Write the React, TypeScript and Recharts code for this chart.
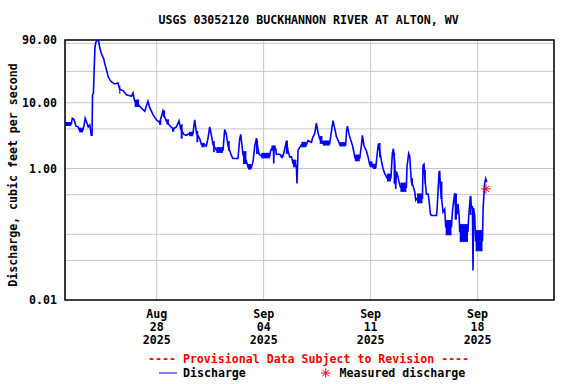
import { ComposedChart, Line, Area, Scatter, XAxis, YAxis, CartesianGrid, Legend, ReferenceArea } from 'recharts';

const FONT = '"DejaVu Sans Mono", monospace';
const BLUE = '#0000FF';
const RED = '#FF0000';

// days since Aug 22 2025, discharge in cfs
const flow: [number, number][] = [
  [0, 4.7], [0.4, 4.7], [0.48, 5.8], [0.58, 5.6], [0.66, 4.9], [0.72, 4.4], [0.86, 4.3], [0.92, 3.9],
  [1.18, 3.9], [1.25, 4.6], [1.32, 5.8], [1.42, 5.0], [1.52, 4.3], [1.62, 4.6], [1.72, 3.2], [1.77, 3.2],
  [1.8, 13], [1.86, 14], [1.9, 28], [1.96, 69], [2.01, 82], [2.12, 90], [2.2, 87], [2.23, 80],
  [2.27, 69], [2.36, 58], [2.45, 51], [2.53, 47], [2.62, 38], [2.71, 32], [2.82, 25], [2.93, 22.5],
  [3.04, 20.7], [3.25, 19.3], [3.47, 20], [3.58, 16], [3.8, 15.3], [4.02, 13.2], [4.35, 12.5], [4.45, 14],
  [4.56, 10.5], [4.78, 9.5], [5.0, 8.3], [5.22, 7.4], [5.43, 10.5], [5.54, 8.5], [5.76, 6.6], [5.98, 5.5],
  [6.2, 5.0], [6.41, 7.5], [6.5, 6.2], [6.64, 5.2], [6.85, 4.5], [7.07, 4.0], [7.29, 4.3], [7.46, 5.3],
  [7.57, 4.0], [7.72, 3.5], [7.77, 3.3], [7.95, 3.2], [8.12, 3.4], [8.38, 3.4], [8.42, 4.2], [8.49, 5.5],
  [8.6, 3.5], [8.82, 2.8], [8.93, 2.3], [9.14, 2.3], [9.25, 2.2], [9.36, 2.9], [9.47, 4.3], [9.58, 3.2],
  [9.69, 2.3], [9.91, 1.9], [10.34, 1.9], [10.45, 3.9], [10.56, 3.3], [10.67, 2.2], [10.88, 1.6], [10.99, 1.42],
  [11.32, 1.42], [11.43, 2.8], [11.5, 3.3], [11.65, 1.6], [11.87, 1.3], [11.98, 1.05], [12.2, 1.05], [12.3, 1.25],
  [12.42, 2.2], [12.53, 2.9], [12.63, 2.0], [12.7, 1.65], [12.85, 1.55], [13.4, 1.55], [13.44, 1.8], [13.51, 2.0],
  [13.64, 2.0], [13.66, 1.19], [13.68, 2.0], [13.79, 2.0], [13.83, 1.65], [14.05, 1.65], [14.16, 1.5], [14.27, 1.55],
  [14.38, 2.0], [14.49, 2.6], [14.59, 1.9], [14.7, 1.5], [14.82, 1.5], [14.92, 1.2], [15.14, 1.1], [15.18, 0.59],
  [15.22, 1.1], [15.25, 1.9], [15.47, 2.3], [15.8, 2.3], [15.9, 2.65], [16.13, 2.5], [16.19, 2.88], [16.34, 3.4],
  [16.45, 4.9], [16.56, 3.5], [16.67, 2.8], [16.85, 2.5], [16.88, 2.4], [17.32, 2.4], [17.43, 3.6], [17.54, 5.35],
  [17.6, 4.6], [17.7, 3.6], [17.76, 3.05], [17.87, 2.7], [17.98, 2.3], [18.37, 2.3], [18.42, 3.6], [18.48, 4.4],
  [18.59, 3.3], [18.7, 2.7], [18.82, 2.2], [18.9, 1.8], [18.97, 1.45], [19.29, 1.45], [19.4, 2.27], [19.46, 3.2],
  [19.57, 2.2], [19.73, 1.85], [19.83, 1.5], [19.94, 1.15], [20.12, 1.15], [20.16, 1.05], [20.34, 1.05], [20.42, 1.6],
  [20.51, 2.4], [20.6, 1.8], [20.71, 1.3], [20.81, 1.0], [20.92, 0.84], [21.07, 0.72], [21.33, 0.72], [21.42, 1.7],
  [21.49, 2.0], [21.58, 1.2], [21.64, 0.49], [21.69, 0.9], [21.79, 0.75], [21.86, 0.62], [21.95, 0.52], [22.34, 0.52],
  [22.38, 1.06], [22.49, 1.7], [22.56, 1.55], [22.62, 0.9], [22.67, 0.62], [22.77, 0.55], [22.89, 0.44], [22.95, 0.33],
  [23.04, 0.35], [23.39, 0.35], [23.43, 1.12], [23.49, 1.16], [23.54, 0.75], [23.65, 0.41], [23.76, 0.41], [23.82, 0.33],
  [23.91, 0.205], [23.98, 0.193], [24.31, 0.193], [24.35, 0.24], [24.48, 0.89], [24.52, 0.9], [24.57, 0.5], [24.74, 0.217],
  [24.85, 0.24], [24.91, 0.13], [25.29, 0.13], [25.35, 0.217], [25.44, 0.33], [25.5, 0.42], [25.55, 0.28], [25.65, 0.2],
  [25.72, 0.29], [25.79, 0.193], [25.83, 0.11], [26.37, 0.11], [26.42, 0.193], [26.53, 0.376], [26.6, 0.25], [26.66, 0.27],
  [26.7, 0.028], [26.74, 0.25], [26.81, 0.193], [26.87, 0.08], [27.32, 0.08], [27.36, 0.244], [27.42, 0.41], [27.46, 0.59],
  [27.53, 0.7], [27.6, 0.62],
];

// stretches where the 15-min record flips between two readings: [start, end, low, high]
const bands: [number, number, number, number][] = [
  [0, 0.4, 4.5, 5.0], [0.92, 1.18, 3.6, 4.1], [3.55, 3.62, 14, 17.8], [4.56, 4.85, 8.8, 11],
  [6.15, 6.3, 4.7, 5.3], [6.41, 6.55, 6.2, 7.5], [6.64, 6.8, 4.75, 5.5], [7.0, 7.15, 3.7, 4.1],
  [7.57, 7.7, 2.9, 4.6], [8.12, 8.38, 3.15, 3.56], [8.6, 8.72, 2.56, 3.64], [8.93, 9.14, 2.14, 2.41],
  [9.69, 9.8, 1.8, 2.56], [9.91, 10.34, 1.76, 2.07], [10.67, 10.78, 1.9, 2.56], [11.65, 11.87, 1.19, 1.8],
  [11.98, 12.2, 0.98, 1.15], [12.5, 12.62, 1.7, 2.7], [12.85, 13.4, 1.45, 1.7], [13.51, 13.79, 1.9, 2.2],
  [14.16, 14.27, 1.45, 1.6], [14.45, 14.59, 1.7, 2.62], [14.92, 15.14, 1.06, 1.34], [15.47, 15.8, 2.14, 2.5],
  [16.67, 16.85, 2.41, 3.05], [16.88, 17.32, 2.27, 2.62], [17.98, 18.37, 2.2, 2.47], [18.97, 19.29, 1.31, 1.6],
  [19.94, 20.12, 1.06, 1.26], [20.16, 20.34, 1.0, 1.16], [20.55, 20.65, 1.5, 2.4], [21.07, 21.33, 0.646, 0.82],
  [21.5, 21.6, 0.6, 1.7], [21.95, 22.34, 0.45, 0.6], [22.67, 22.77, 0.555, 0.7], [23.04, 23.39, 0.3, 0.41],
  [23.54, 23.61, 0.59, 0.94], [24.57, 24.7, 0.35, 0.62], [24.91, 25.29, 0.098, 0.162], [25.5, 25.65, 0.17, 0.41],
  [25.83, 26.37, 0.078, 0.14], [26.49, 26.6, 0.2, 0.376], [26.87, 27.32, 0.056, 0.1135],
];

const measuredDays = [27.55];
const measuredCfs = [0.49];

const xDomain = [0, 32];
const tickDays = [6, 13, 20, 27];
const tickMonths = ['Aug', 'Sep', 'Sep', 'Sep'];
const tickDates = ['28', '04', '11', '18'];
const tickYears = ['2025', '2025', '2025', '2025'];

const yDomain = [0.01, 90];
const yTicks = [0.01, 1, 10, 90];
const gridValues = [
  0.02, 0.03, 0.04, 0.05, 0.06, 0.07, 0.08, 0.09,
  0.1, 0.2, 0.3, 0.4, 0.5, 0.6, 0.7, 0.8, 0.9,
  1, 2, 3, 4, 5, 6, 7, 8, 9,
  10, 20, 30, 40, 50, 60, 70, 80,
];

const flowData = flow.map(([d, q]) => ({ d, q }));
const measuredData = measuredDays.map((d, i) => ({ d, m: measuredCfs[i] }));

const textStyle = { fontFamily: FONT, fontWeight: 'bold' as const, fontSize: 11.6, fill: '#000' };

const DateTick = ({ x, y, payload }: any) => {
  const i = tickDays.indexOf(payload.value);
  return (
    <text x={x} y={y} textAnchor="middle" style={textStyle}>
      <tspan x={x} dy={18.3}>{tickMonths[i]}</tspan>
      <tspan x={x} dy={12.8}>{tickDates[i]}</tspan>
      <tspan x={x} dy={12.8}>{tickYears[i]}</tspan>
    </text>
  );
};

const Asterisk = ({ cx, cy }: any) => {
  const r = 4.7;
  const k = r * 0.707;
  return (
    <g stroke={RED} strokeWidth={1}>
      <line x1={cx - r} y1={cy} x2={cx + r} y2={cy} />
      <line x1={cx} y1={cy - r} x2={cx} y2={cy + r} />
      <line x1={cx - k} y1={cy - k} x2={cx + k} y2={cy + k} />
      <line x1={cx - k} y1={cy + k} x2={cx + k} y2={cy - k} />
    </g>
  );
};

const yLabel = () => (
  <text x={17} y={175} transform="rotate(-90 17 175)" textAnchor="middle" style={textStyle}>
    Discharge, cubic feet per second
  </text>
);

// legend: icon left edge and text left edge for each entry
const legendSpots: Record<string, [number, number]> = {
  Discharge: [159, 183],
  'Measured discharge': [320, 339.5],
};

const renderLegend = ({ payload }: any) => (
  <div style={{ fontFamily: FONT, fontWeight: 'bold', fontSize: 11.6, lineHeight: '14.5px', color: '#000', whiteSpace: 'nowrap' }}>
    <div style={{ color: RED, position: 'relative', height: 14.5 }}>
      <span style={{ position: 'absolute', left: 148 }}>---- Provisional Data Subject to Revision ----</span>
    </div>
    <div style={{ position: 'relative', height: 14.5 }}>
      {(payload || [])
        .filter((item: any) => legendSpots[item.value])
        .map((item: any) => {
          const [iconX, textX] = legendSpots[item.value];
          return (
            <div key={item.value}>
              {item.type === 'line' ? (
                <svg style={{ position: 'absolute', left: iconX, top: 2 }} width={19} height={10}>
                  <line x1={0} y1={5} x2={18} y2={5} stroke={BLUE} strokeWidth={1} />
                </svg>
              ) : (
                <svg style={{ position: 'absolute', left: iconX, top: 1 }} width={12} height={12}>
                  <Asterisk cx={5.7} cy={6} />
                </svg>
              )}
              <span style={{ position: 'absolute', left: textX }}>{item.value}</span>
            </div>
          );
        })}
    </div>
  </div>
);

export default function App() {
  return (
    <div style={{ position: 'relative', width: 576, height: 384, background: '#fff' }}>
      <style>{`body{margin:0}`}</style>
      <div style={{ position: 'absolute', top: 12.7, left: 158.5, whiteSpace: 'nowrap', fontFamily: FONT, fontWeight: 'bold', fontSize: 11.6, lineHeight: '14.5px' }}>
        USGS 03052120 BUCKHANNON RIVER AT ALTON, WV
      </div>
      <ComposedChart width={576} height={384} margin={{ top: 40, right: 22, bottom: 0, left: 0 }}>
        <CartesianGrid horizontalValues={gridValues} stroke="#C8C8C8" />
        <XAxis
          dataKey="d"
          type="number"
          domain={xDomain}
          ticks={tickDays}
          allowDataOverflow
          height={84}
          tickSize={0}
          tickMargin={0}
          tickLine={false}
          axisLine={false}
          tick={<DateTick />}
        />
        <YAxis
          type="number"
          scale="log"
          domain={yDomain}
          ticks={yTicks}
          allowDataOverflow
          width={65}
          tickSize={0}
          tickMargin={8}
          tickLine={false}
          axisLine={false}
          tick={textStyle}
          tickFormatter={(v: number) => v.toFixed(2)}
          label={yLabel}
        />
        {bands.map(([s, e, lo, hi], i) => (
          <Area
            key={`band-${i}`}
            data={[{ d: s, r: [lo, hi] }, { d: e, r: [lo, hi] }]}
            dataKey="r"
            type="linear"
            stroke={BLUE}
            strokeWidth={1}
            fill={BLUE}
            fillOpacity={1}
            dot={false}
            activeDot={false}
            legendType="none"
            isAnimationActive={false}
          />
        ))}
        <Line
          data={flowData}
          dataKey="q"
          name="Discharge"
          type="linear"
          stroke={BLUE}
          strokeWidth={1.6}
          dot={false}
          activeDot={false}
          legendType="line"
          isAnimationActive={false}
        />
        <Scatter
          data={measuredData}
          dataKey="m"
          name="Measured discharge"
          fill={RED}
          shape={<Asterisk />}
          legendType="star"
          isAnimationActive={false}
        />
        <ReferenceArea
          x1={xDomain[0]}
          x2={xDomain[1]}
          y1={yDomain[0]}
          y2={yDomain[1]}
          fill="none"
          stroke="#000"
          strokeWidth={1.5}
          ifOverflow="visible"
        />
        <Legend
          layout="horizontal"
          verticalAlign="middle"
          align="center"
          content={renderLegend}
          wrapperStyle={{ top: 351.5, left: 0, width: 576 }}
        />
      </ComposedChart>
    </div>
  );
}
